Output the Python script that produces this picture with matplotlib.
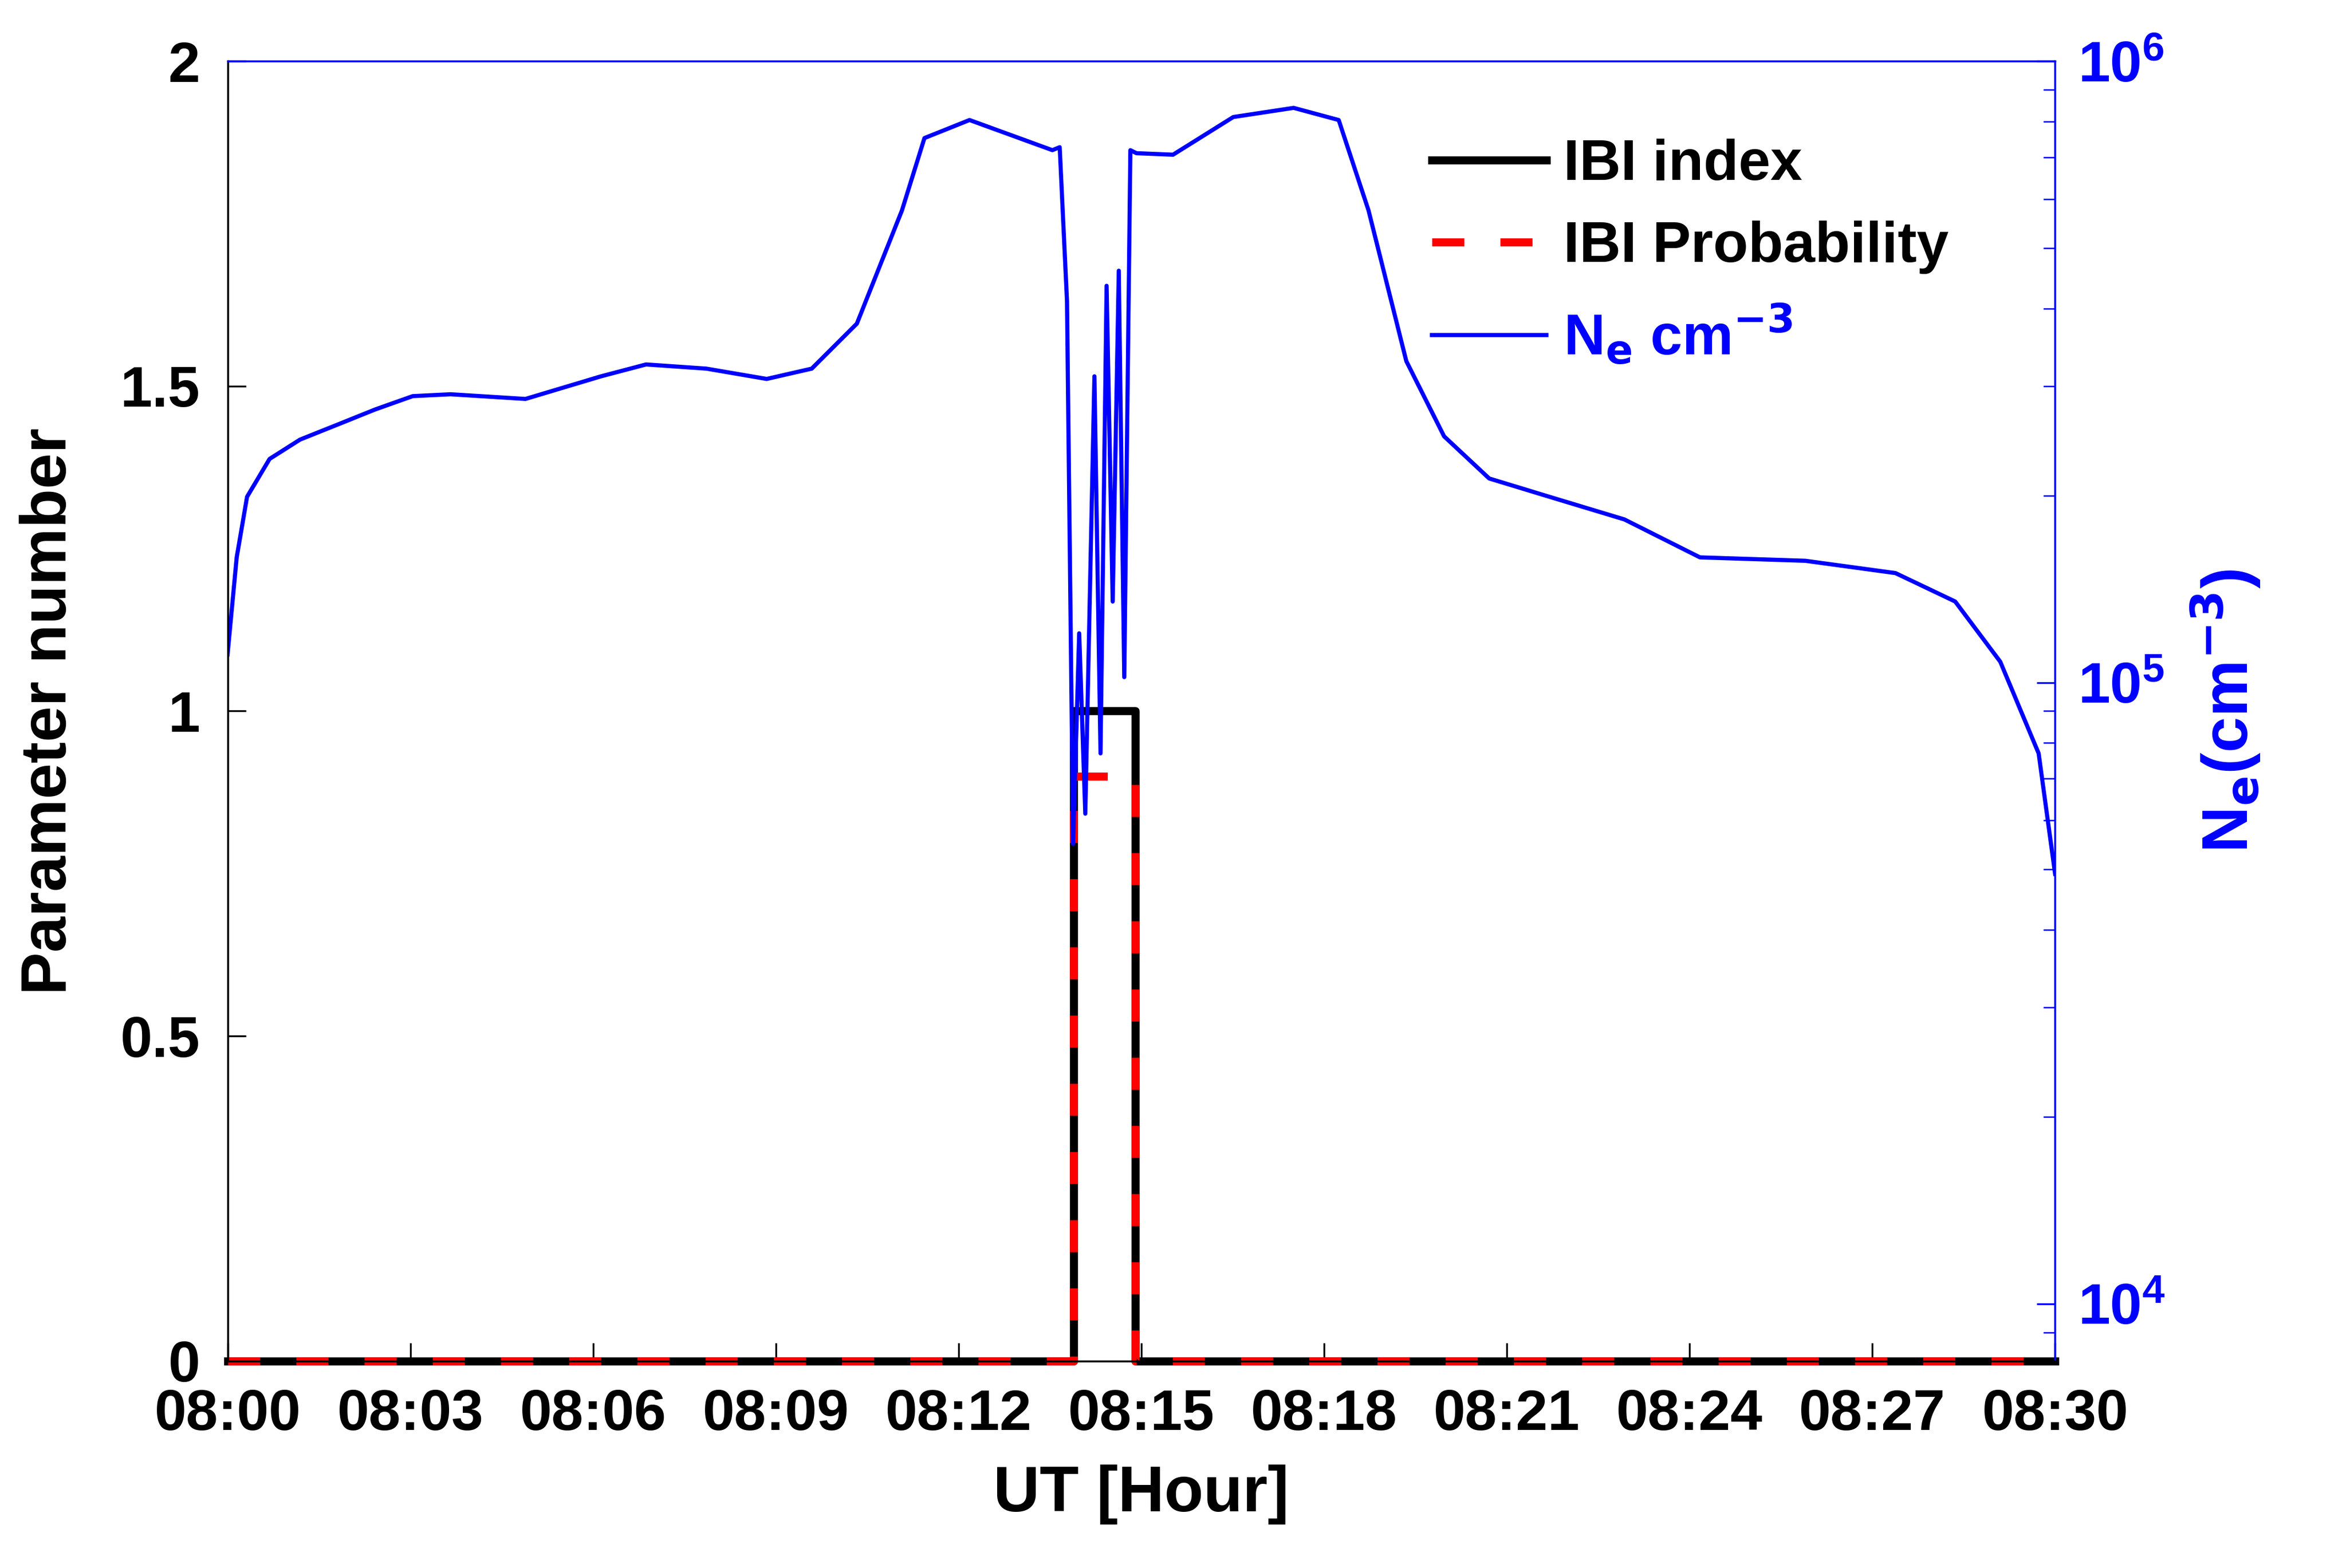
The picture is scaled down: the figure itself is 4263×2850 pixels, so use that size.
import numpy as np
import matplotlib.pyplot as plt
from matplotlib.ticker import FixedLocator, LogLocator, NullFormatter

plt.rcParams['font.family'] = ['Liberation Sans', 'DejaVu Sans']
plt.rcParams['font.weight'] = 'bold'
plt.rcParams['mathtext.default'] = 'bf'

# minutes after 08:00
ne_t = [0, 0.15, 0.32, 0.69, 1.19, 1.93, 2.42, 3.04, 3.66, 4.89, 6.13, 6.87, 7.86, 8.85,
        9.59, 10.33, 11.07, 11.44, 12.18, 13.54, 13.66, 13.78, 13.88, 13.98, 14.08, 14.23,
        14.33, 14.43, 14.53, 14.63, 14.72, 14.82, 14.92, 15.52, 16.51, 17.50, 18.24, 18.73,
        19.35, 19.97, 20.71, 21.70, 22.93, 24.17, 25.9, 27.38, 28.36, 29.1, 29.73, 30]
ne_val = [1.11e5, 1.59e5, 1.99e5, 2.29e5, 2.46e5, 2.63e5, 2.75e5, 2.89e5, 2.91e5, 2.86e5,
          3.11e5, 3.25e5, 3.20e5, 3.08e5, 3.20e5, 3.78e5, 5.75e5, 7.52e5, 8.04e5, 7.19e5,
          7.27e5, 4.11e5, 5.50e4, 1.20e5, 6.15e4, 3.11e5, 7.69e4, 4.35e5, 1.35e5, 4.60e5,
          1.02e5, 7.19e5, 7.11e5, 7.07e5, 8.13e5, 8.41e5, 8.04e5, 5.75e5, 3.29e5, 2.49e5,
          2.13e5, 1.99e5, 1.83e5, 1.59e5, 1.57e5, 1.50e5, 1.35e5, 1.08e5, 7.69e4, 4.92e4]

ibi_t = [0, 13.89, 13.89, 14.9, 14.9, 30]
ibi_idx = [0, 0, 1, 1, 0, 0]
ibi_prob = [0, 0, 0.9, 0.9, 0, 0]

xticks = list(range(0, 31, 3))
xlabels = ['08:%02d' % m for m in xticks]

fig = plt.figure(figsize=(14.21, 9.5), dpi=300)
ax = fig.add_axes([0.097, 0.132, 0.779, 0.829])
l1, = ax.plot(ibi_t, ibi_idx, color='black', lw=3.5, clip_on=False)
l2, = ax.plot(ibi_t, ibi_prob, color='red', lw=3.5, ls=(0, (4, 4.5)), clip_on=False)
ax.set_xlim(0, 30)
ax.set_ylim(0, 2)
ax.set_xticks(xticks)
ax.set_xticklabels(xlabels)
ax.set_yticks([0, 0.5, 1, 1.5, 2])
ax.set_yticklabels(['0', '0.5', '1', '1.5', '2'])
ax.tick_params(direction='in', labelsize=25, length=8, pad=12, top=False)
ax.set_xlabel('UT [Hour]', fontsize=28, fontweight='bold', labelpad=10)
ax.set_ylabel('Parameter number', fontsize=28, fontweight='bold', labelpad=18)
ax.spines['top'].set_color('blue')
ax.spines['right'].set_color('blue')

ax2 = ax.twinx()
l3, = ax2.plot(ne_t, ne_val, color='blue', lw=1.8)
ax2.set_yscale('log')
ax2.set_ylim(10 ** 3.908, 1e6)
ax2.yaxis.set_major_locator(FixedLocator([1e4, 1e5, 1e6]))
ax2.yaxis.set_minor_locator(LogLocator(base=10, subs=np.arange(2, 10)))
ax2.yaxis.set_minor_formatter(NullFormatter())
ax2.tick_params(axis='y', which='both', direction='in', colors='blue', labelsize=25, pad=10)
ax2.tick_params(axis='y', which='major', length=8)
ax2.tick_params(axis='y', which='minor', length=5)
ax2.spines['right'].set_color('blue')
ax2.spines['top'].set_color('blue')
ax2.spines['left'].set_color('black')
ax2.set_ylabel('N$_e$(cm$^{-3}$)', color='blue', fontsize=28, fontweight='bold', labelpad=10)

leg = ax2.legend([l1, l2, l3], ['IBI index', 'IBI Probability', 'N$_e$ cm$^{-3}$'],
                 loc='upper right', bbox_to_anchor=(0.97, 0.98), frameon=False,
                 fontsize=25, handlelength=2.0, handletextpad=0.3, labelspacing=0.5)
for txt in leg.get_texts():
    txt.set_fontweight('bold')
leg.get_texts()[2].set_color('blue')

fig.savefig('out.png', dpi=300)
